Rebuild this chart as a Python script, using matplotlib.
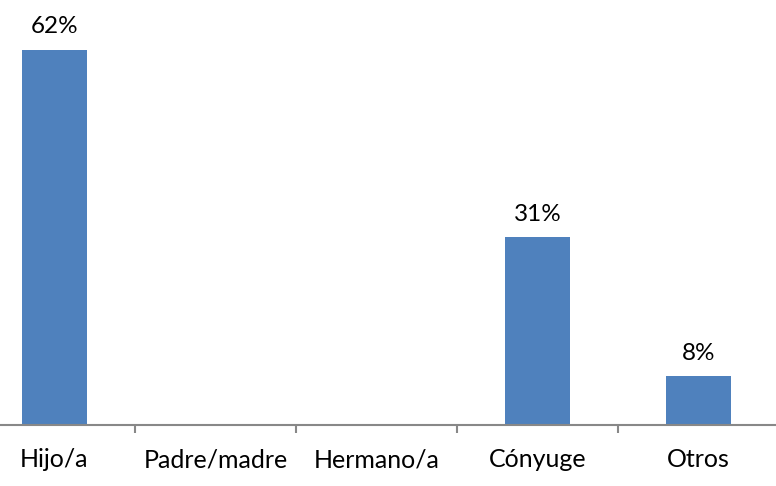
import numpy as np
import matplotlib.pyplot as plt

plt.rcParams['font.family'] = ['Lato', 'DejaVu Sans']

categorias = ['Hijo/a', 'Padre/madre', 'Hermano/a', 'Cónyuge', 'Otros']
porcentajes = [62, 0, 0, 31, 8]
etiquetas = ['62%', '', '', '31%', '8%']

W, H = 776, 486
fig = plt.figure(figsize=(W / 100, H / 100), dpi=100)
# axes run a little past the left edge so the first category is cut off
ax = fig.add_axes([-26 / W, (H - 424.5) / H, 805 / W, 423 / H])

x = np.arange(len(categorias))
bars = ax.bar(x, porcentajes, width=0.4, color='#4F81BD')

for b, v, lab in zip(bars, porcentajes, etiquetas):
    if lab:
        ax.annotate(lab, (b.get_x() + b.get_width() / 2, v),
                    xytext=(0, 9), textcoords='offset points',
                    ha='center', va='bottom', fontsize=17.5, color='black')

ax.set_xlim(-0.5, len(categorias) - 0.5)
ax.set_ylim(0, 70)

for s in ['top', 'right', 'left']:
    ax.spines[s].set_visible(False)
ax.spines['bottom'].set_color('#888888')
ax.spines['bottom'].set_linewidth(1.5)

ax.set_yticks([])
ax.set_xticks(x)
ax.set_xticklabels(categorias, fontsize=18)
ax.tick_params(axis='x', which='major', length=0, pad=17)
ax.set_xticks(np.arange(0.5, len(categorias) - 0.5), minor=True)
ax.tick_params(axis='x', which='minor', length=6, width=1.5, color='#888888')

fig.savefig('out.png', dpi=100)
